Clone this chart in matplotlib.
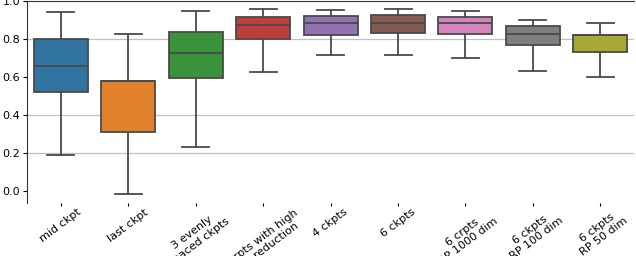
import matplotlib
matplotlib.use("Agg")
import matplotlib.pyplot as plt
import numpy as np

labels = ["mid ckpt", "last ckpt", "3 evenly\nspaced ckpts", "3 crpts with high\nloss reduction",
          "4 ckpts", "6 ckpts", "6 crpts\nRP 1000 dim", "6 ckpts\nRP 100 dim", "6 ckpts\nRP 50 dim"]
whislo = [0.188, -0.018, 0.23, 0.626, 0.714, 0.714, 0.698, 0.63, 0.598]
q1 = [0.519, 0.309, 0.593, 0.798, 0.823, 0.83, 0.825, 0.767, 0.73]
med = [0.66, 0.577, 0.725, 0.872, 0.886, 0.886, 0.882, 0.825, 0.821]
q3 = [0.80, 0.577, 0.835, 0.914, 0.921, 0.925, 0.914, 0.867, 0.821]
whishi = [0.94, 0.826, 0.947, 0.956, 0.951, 0.956, 0.949, 0.902, 0.886]
colors = ["#3274a1", "#e1812c", "#3a923a", "#c03d3e", "#9372b2",
          "#845b53", "#d684bd", "#7f7f7f", "#a9aa35"]

stats = [dict(whislo=a, q1=b, med=c, q3=d, whishi=e, fliers=[])
         for a, b, c, d, e in zip(whislo, q1, med, q3, whishi)]

fig = plt.figure(figsize=(6.36, 2.56), dpi=100)
ax = fig.add_axes([0.0425, 0.207, 0.9545, 0.789])

edge = "#4a4a4a"
bp = ax.bxp(stats, positions=np.arange(len(labels)), widths=0.8, patch_artist=True,
            showfliers=False,
            boxprops=dict(edgecolor=edge, linewidth=1.3),
            medianprops=dict(color=edge, linewidth=1.3),
            whiskerprops=dict(color=edge, linewidth=1.3),
            capprops=dict(color=edge, linewidth=1.3),
            capwidths=0.4)
for patch, c in zip(bp["boxes"], colors):
    patch.set_facecolor(c)

ax.set_xlim(-0.5, len(labels) - 0.5)
ax.set_ylim(-0.063, 1.0)
ax.set_yticks([0.0, 0.2, 0.4, 0.6, 0.8, 1.0])
ax.set_yticklabels(["0.0", "0.2", "0.4", "0.6", "0.8", "1.0"], fontsize=8)
for y in [0.2, 0.4, 0.8]:
    ax.axhline(y, color="#c0c0c0", linewidth=0.9, zorder=0)
ax.set_xticks(np.arange(len(labels)))
ax.set_xticklabels(labels, rotation=37, ha="center", fontsize=8,
                   multialignment="center", linespacing=1.1)
ax.tick_params(axis="x", length=2, pad=1)
ax.tick_params(axis="y", length=3, pad=2)
ax.spines["right"].set_visible(False)
ax.spines["bottom"].set_visible(False)
ax.spines["top"].set_color("#333333")
ax.spines["left"].set_color("#333333")

fig.savefig("out.png", dpi=100)
